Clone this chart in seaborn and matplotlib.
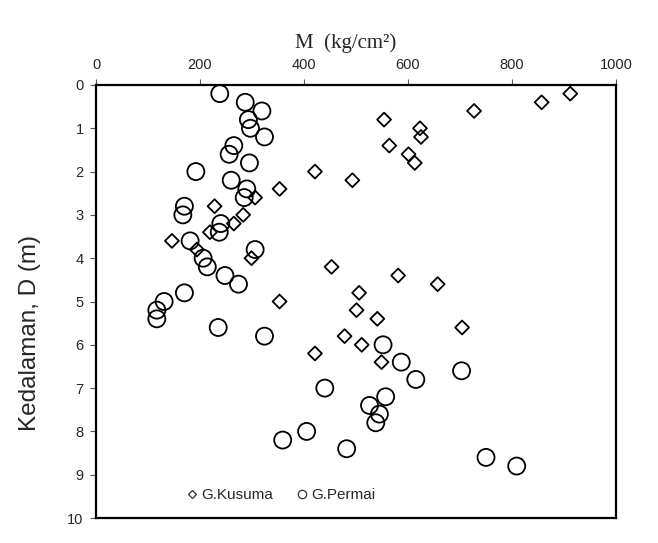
import numpy as np
import pandas as pd
import matplotlib
matplotlib.use('Agg')
import matplotlib.pyplot as plt
from matplotlib.lines import Line2D
import seaborn as sns

# Data
# G.Kusuma: depth (m) and M (kg/cm2)
kusuma_depth = [0.2, 0.4, 0.6, 0.8, 1.0, 1.2, 1.4, 1.6, 1.8, 2.0, 2.2, 2.4, 2.6, 2.8, 3.0, 3.2,
                3.4, 3.6, 3.8, 4.0, 4.2, 4.4, 4.6, 4.8, 5.0, 5.2, 5.4, 5.6, 5.8, 6.0, 6.2, 6.4]
kusuma_m = [912, 857, 727, 554, 623, 625, 564, 601, 613, 421, 493, 353, 306, 228, 283, 265,
            219, 146, 194, 299, 453, 581, 657, 506, 353, 501, 541, 704, 478, 511, 421, 549]

# G.Permai: depth (m) and M (kg/cm2)
permai_depth = [0.2, 0.4, 0.6, 0.8, 1.0, 1.2, 1.4, 1.6, 1.8, 2.0, 2.2, 2.4, 2.6, 2.8, 3.0, 3.2,
                3.4, 3.6, 3.8, 4.0, 4.2, 4.4, 4.6, 4.8, 5.0, 5.2, 5.4, 5.6, 5.8, 6.0, 6.4, 6.6,
                6.8, 7.0, 7.2, 7.4, 7.6, 7.8, 8.0, 8.2, 8.4, 8.6, 8.8]
permai_m = [238, 287, 319, 293, 297, 324, 265, 256, 295, 192, 260, 290, 285, 170, 167, 240,
            237, 181, 306, 206, 214, 248, 274, 170, 131, 117, 117, 235, 324, 552, 587, 703,
            615, 440, 557, 526, 545, 538, 405, 359, 482, 750, 809]

kusuma = pd.DataFrame({'M': kusuma_m, 'D': kusuma_depth})
permai = pd.DataFrame({'M': permai_m, 'D': permai_depth})

sns.set_style('white')
plt.rcParams['font.family'] = ['Liberation Sans', 'DejaVu Sans']

fig = plt.figure(figsize=(6.58, 5.43), dpi=100)
ax = fig.add_axes([0.1459, 0.046, 0.7903, 0.7975])

sns.scatterplot(data=kusuma, x='M', y='D', marker='D', s=50, facecolor='none',
                edgecolor='black', linewidth=1.3, ax=ax, zorder=3)
sns.scatterplot(data=permai, x='M', y='D', marker='o', s=150, facecolor='none',
                edgecolor='black', linewidth=1.3, ax=ax, zorder=3)

ax.set_xlim(0, 1000)
ax.set_ylim(10, 0)
ax.set_xticks(np.arange(0, 1001, 200))
ax.set_yticks(np.arange(0, 11, 1))
ax.xaxis.tick_top()
ax.xaxis.set_label_position('top')
ax.tick_params(axis='both', direction='out', length=4, width=0.8, color='#555555',
               labelsize=10.5, pad=5)
ax.tick_params(axis='x', top=True, bottom=False)
ax.tick_params(axis='y', left=True)

for sp in ax.spines.values():
    sp.set_color('black')
    sp.set_linewidth(1.6)

ax.set_xlabel('M  (kg/cm²)', fontfamily='Liberation Serif', fontsize=15, labelpad=0)
ax.xaxis.set_label_coords(0.48, 1.085)
ax.set_ylabel('Kedalaman, D (m)', fontsize=17.5)
ax.yaxis.set_label_coords(-0.106, 0.427)

handles = [Line2D([], [], linestyle='none', marker='D', markersize=4.5, markerfacecolor='none',
                  markeredgecolor='#333333', markeredgewidth=0.9, label='G.Kusuma'),
           Line2D([], [], linestyle='none', marker='o', markersize=6, markerfacecolor='none',
                  markeredgecolor='#333333', markeredgewidth=0.9, label='G.Permai')]
ax.legend(handles=handles, loc='lower left', bbox_to_anchor=(0.15, 0.005), ncol=2, frameon=False,
          fontsize=11, handlelength=0.6, handletextpad=0.3, columnspacing=1.6)

fig.savefig('out.png', dpi=100)
